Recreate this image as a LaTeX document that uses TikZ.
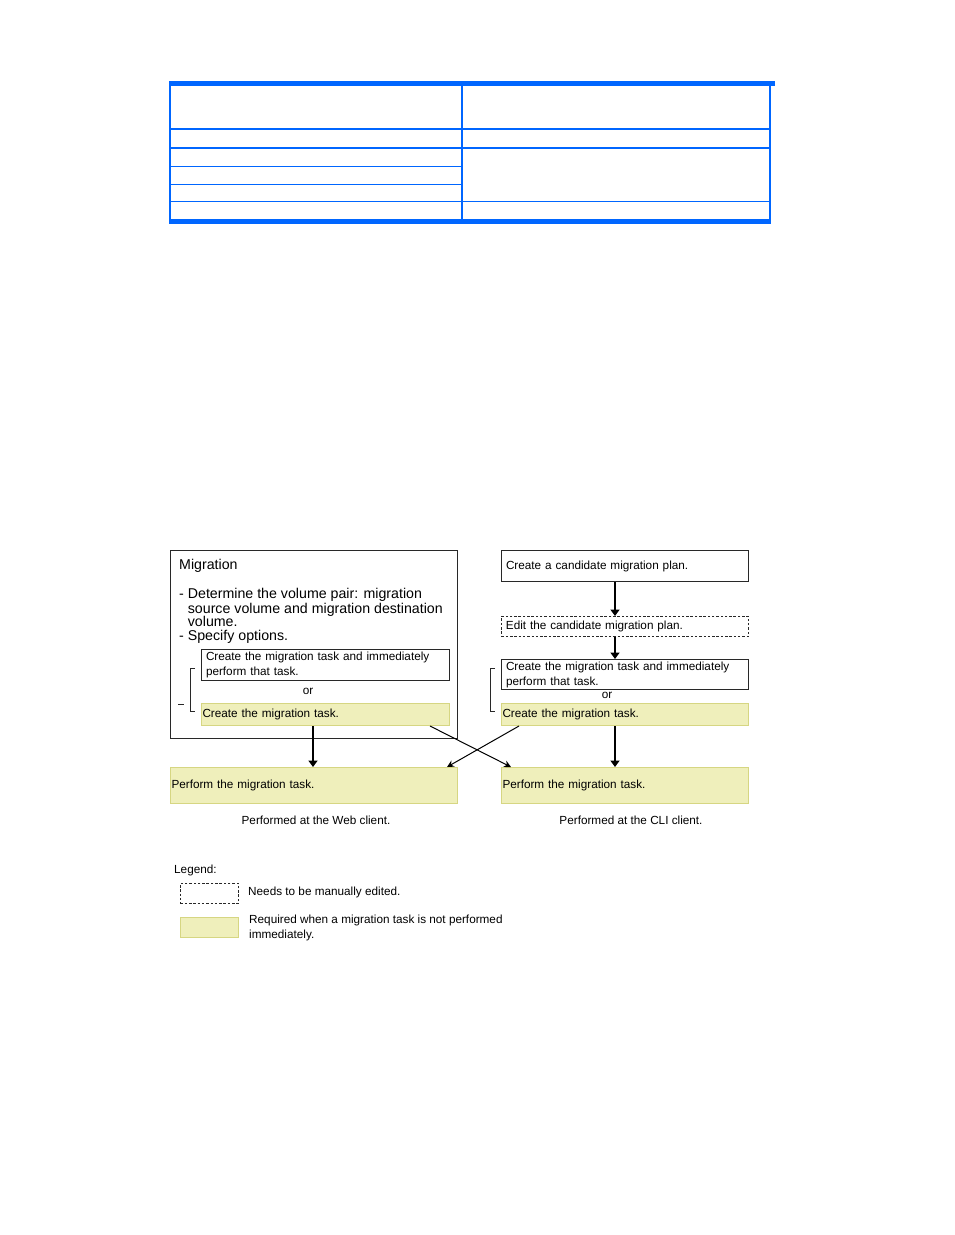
\documentclass[tikz,border=0pt]{standalone}
\usepackage{fontspec}
\setmainfont{Liberation Sans}
\usetikzlibrary{arrows.meta,calc}
\definecolor{tblue}{RGB}{0,102,255}
\definecolor{yfill}{RGB}{239,239,187}
\definecolor{ydraw}{RGB}{214,214,130}
\definecolor{dk}{RGB}{40,40,40}
\begin{document}
\begin{tikzpicture}[x=1pt,y=-1pt,
  txt/.style={font=\fontsize{11.75}{15}\selectfont, inner sep=0pt},
  bigtxt/.style={font=\fontsize{14.2}{14}\selectfont, inner sep=0pt},
  wbox/.style={draw=dk, line width=1pt, anchor=north west, align=left, inner xsep=4.5pt, inner ysep=0pt, font=\fontsize{11.75}{15}\selectfont},
  dbox/.style={wbox, dash pattern=on 2.5pt off 1.8pt, line width=0.9pt},
  ybox/.style={draw=ydraw, fill=yfill, line width=1pt, anchor=north west, align=left, inner xsep=1pt, inner ysep=0pt, font=\fontsize{11.75}{15}\selectfont},
  thickarr/.style={line width=2.2pt, draw=black, -{Triangle[width=9pt,length=6.5pt]}},
  thinarr/.style={line width=1pt, draw=black, -{Stealth[width=7pt,length=7pt]}},
  brk/.style={line width=1pt, draw=dk},
  tline/.style={draw=tblue, line width=1.1pt}
]
\useasboundingbox (0,0) rectangle (954,1235);

% ---- table ----
\fill[tblue] (169,81) rectangle (775,85.5);
\fill[tblue] (169,219) rectangle (771,223.5);
\draw[tline] (170,85) -- (170,219);
\draw[tline] (462,85) -- (462,219);
\draw[tline] (770,85) -- (770,219);
\draw[tblue, line width=2.2pt] (169,129) -- (771,129);
\draw[tline] (169,148) -- (771,148);
\draw[tline] (169,166.5) -- (462,166.5);
\draw[tline] (169,184.5) -- (462,184.5);
\draw[tline] (169,201.5) -- (771,201.5);

% ---- left: Migration box ----
\node[draw=dk, line width=1.2pt, anchor=north west, minimum width=287pt, minimum height=188pt, inner sep=0pt] (mig) at (170,550) {};
\node[bigtxt, anchor=west] (migt) at (179,566) {Migration};
\node[bigtxt, anchor=north west, align=left] (migb) at (179,588.5)
  {- Determine the volume pair: migration\\
   \phantom{- }source volume and migration destination\\
   \phantom{- }volume.\\
   - Specify options.};
\node[wbox, text width=239pt, minimum height=31pt] (lw) at (201,649)
  {Create the migration task and immediately\\perform that task.};
\node[txt] (lor) at (308,691.5) {or};
\node[ybox, text width=246pt, minimum height=22pt] (ly) at (201,703) {Create the migration task.};
\draw[brk] (195,668) -- (190.5,668) -- (190.5,711) -- (195,711);
\draw[brk] (178,704) -- (184,704);

\node[ybox, text width=285pt, minimum height=36pt] (lp) at (170,767) {Perform the migration task.};
\node[txt] (lcap) at (316,820.5) {Performed at the Web client.};

% ---- right column ----
\node[wbox, text width=238pt, minimum height=31pt] (r1) at (501,550) {Create a candidate migration plan.};
\node[dbox, text width=238pt, minimum height=20pt] (r2) at (501,616) {Edit the candidate migration plan.};
\node[wbox, text width=238pt, minimum height=30pt] (r3) at (501,659)
  {Create the migration task and immediately\\perform that task.};
\node[txt] (ror) at (607,695.5) {or};
\node[ybox, text width=245pt, minimum height=22pt] (ry) at (501,703) {Create the migration task.};
\draw[brk] (495,668) -- (490.5,668) -- (490.5,711) -- (495,711);
\node[ybox, text width=245pt, minimum height=36pt] (rp) at (501,767) {Perform the migration task.};
\node[txt] (rcap) at (631,820.5) {Performed at the CLI client.};

% ---- arrows ----
\coordinate (xl) at (313,0);
\coordinate (xr) at (615,0);
\draw[thickarr] (r1.south -| xr) -- (r2.north -| xr);
\draw[thickarr] (r2.south -| xr) -- (r3.north -| xr);
\draw[thickarr] (ry.south -| xr) -- (rp.north -| xr);
\draw[thickarr] (ly.south -| xl) -- (lp.north -| xl);
\coordinate (c1) at (430,0);
\coordinate (c2) at (511,0);
\coordinate (c3) at (519,0);
\coordinate (c4) at (447,0);
\draw[thinarr] (ly.south -| c1) -- (rp.north -| c2);
\draw[thinarr] (ry.south -| c3) -- (lp.north -| c4);

% ---- legend ----
\node[txt, anchor=west] (leg) at (174,870.5) {Legend:};
\node[draw=dk, dash pattern=on 2.5pt off 1.8pt, line width=0.9pt, anchor=north west, minimum width=58pt, minimum height=20pt, inner sep=0pt] (legd) at (180,883) {};
\node[txt, anchor=west] (legdt) at (248,892) {Needs to be manually edited.};
\node[draw=ydraw, fill=yfill, line width=1pt, anchor=north west, minimum width=58pt, minimum height=20pt, inner sep=0pt] (legy) at (180,917) {};
\node[txt, anchor=north west, align=left] (legyt) at (249,915) {Required when a migration task is not performed\\immediately.};
\end{tikzpicture}
\end{document}
